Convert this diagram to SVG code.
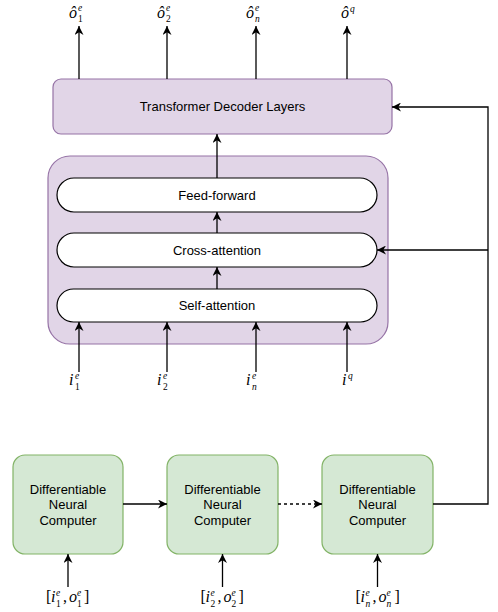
<svg xmlns="http://www.w3.org/2000/svg" width="498" height="612" viewBox="0 0 498 612">
<style>
.lbl{font-family:"Liberation Sans",Arial,sans-serif;font-size:13px;fill:#000;text-anchor:middle}
.m{font-family:"Liberation Serif","DejaVu Serif",serif;font-style:italic;font-size:16px;fill:#000}
.s{font-size:9.5px}
.r{font-style:normal}
.ln{stroke:#000;stroke-width:1.3;fill:none}
.purple{fill:#e1d5e7;stroke:#9673a6;stroke-width:1.2}
.green{fill:#d5e8d4;stroke:#82b366;stroke-width:1.2}
.pill{fill:#fff;stroke:#000;stroke-width:1.2}
</style>
<defs>
<marker id="arr" viewBox="0 0 10 10" refX="10" refY="5" markerWidth="9" markerHeight="9" markerUnits="userSpaceOnUse" orient="auto">
<path d="M0,0 L10,5 L0,10 L3,5 Z" fill="#000"/>
</marker>
</defs>
<rect width="498" height="612" fill="#fff"/>

<g id="decoder-layers">
<rect class="purple" x="53" y="79" width="339" height="55" rx="8"/>
<text class="lbl" x="222.5" y="111">Transformer Decoder Layers</text>
</g>

<g id="decoder-block">
<rect class="purple" x="48" y="156" width="340" height="188" rx="22"/>
</g>
<g id="feed-forward">
<rect class="pill" x="57" y="178" width="320" height="34" rx="17"/>
<text class="lbl" x="217" y="200">Feed-forward</text>
</g>
<g id="cross-attention">
<rect class="pill" x="57" y="233" width="320" height="34" rx="17"/>
<text class="lbl" x="217" y="255">Cross-attention</text>
</g>
<g id="self-attention">
<rect class="pill" x="57" y="289" width="320" height="33" rx="16.5"/>
<text class="lbl" x="217" y="310">Self-attention</text>
</g>

<g id="dnc1">
<rect class="green" x="13" y="455" width="110" height="99" rx="12"/>
<text class="lbl" x="68" y="494">Differentiable</text>
<text class="lbl" x="68" y="509">Neural</text>
<text class="lbl" x="68" y="525">Computer</text>
</g>
<g id="dnc2">
<rect class="green" x="167" y="455" width="111" height="99" rx="12"/>
<text class="lbl" x="222.5" y="494">Differentiable</text>
<text class="lbl" x="222.5" y="509">Neural</text>
<text class="lbl" x="222.5" y="525">Computer</text>
</g>
<g id="dnc3">
<rect class="green" x="322" y="455" width="111" height="99" rx="12"/>
<text class="lbl" x="377.5" y="494">Differentiable</text>
<text class="lbl" x="377.5" y="509">Neural</text>
<text class="lbl" x="377.5" y="525">Computer</text>
</g>

<g id="connectors">
<line class="ln" x1="79" y1="79" x2="79" y2="26" marker-end="url(#arr)"/>
<line class="ln" x1="167" y1="79" x2="167" y2="26" marker-end="url(#arr)"/>
<line class="ln" x1="256" y1="79" x2="256" y2="26" marker-end="url(#arr)"/>
<line class="ln" x1="347" y1="79" x2="347" y2="26" marker-end="url(#arr)"/>
<line class="ln" x1="217" y1="178" x2="217" y2="134" marker-end="url(#arr)"/>
<line class="ln" x1="217" y1="233" x2="217" y2="212" marker-end="url(#arr)"/>
<line class="ln" x1="217" y1="289" x2="217" y2="267" marker-end="url(#arr)"/>
<line class="ln" x1="79" y1="372" x2="79" y2="322" marker-end="url(#arr)"/>
<line class="ln" x1="167" y1="372" x2="167" y2="322" marker-end="url(#arr)"/>
<line class="ln" x1="256" y1="372" x2="256" y2="322" marker-end="url(#arr)"/>
<line class="ln" x1="347" y1="372" x2="347" y2="322" marker-end="url(#arr)"/>
<line class="ln" x1="123" y1="504" x2="167" y2="504" marker-end="url(#arr)"/>
<line class="ln" x1="278" y1="504" x2="322" y2="504" stroke-dasharray="3,3" marker-end="url(#arr)"/>
<polyline class="ln" points="433,504 488,504 488,107 392,107" marker-end="url(#arr)"/>
<line class="ln" x1="488" y1="250" x2="377" y2="250" marker-end="url(#arr)"/>
<line class="ln" x1="68" y1="587" x2="68" y2="554" marker-end="url(#arr)"/>
<line class="ln" x1="222.5" y1="587" x2="222.5" y2="554" marker-end="url(#arr)"/>
<line class="ln" x1="377.5" y1="587" x2="377.5" y2="554" marker-end="url(#arr)"/>
</g>

<g id="output-labels">
<text class="m"><tspan x="69" y="18">ô</tspan><tspan class="s" x="78" y="11">e</tspan><tspan class="s r" x="78" y="22">1</tspan></text>
<text class="m"><tspan x="157" y="18">ô</tspan><tspan class="s" x="166" y="11">e</tspan><tspan class="s r" x="166" y="22">2</tspan></text>
<text class="m"><tspan x="246" y="18">ô</tspan><tspan class="s" x="255" y="11">e</tspan><tspan class="s" x="255" y="22">n</tspan></text>
<text class="m"><tspan x="341" y="18">ô</tspan><tspan class="s" x="350" y="12">q</tspan></text>
</g>

<g id="input-labels">
<text class="m"><tspan x="69" y="385">i</tspan><tspan class="s" x="75" y="379">e</tspan><tspan class="s r" x="75" y="390">1</tspan></text>
<text class="m"><tspan x="157" y="385">i</tspan><tspan class="s" x="163" y="379">e</tspan><tspan class="s r" x="163" y="390">2</tspan></text>
<text class="m"><tspan x="246" y="385">i</tspan><tspan class="s" x="252" y="379">e</tspan><tspan class="s" x="252" y="390">n</tspan></text>
<text class="m"><tspan x="342" y="385">i</tspan><tspan class="s" x="348" y="379">q</tspan></text>
</g>

<g id="dnc-input-labels">
<text class="m"><tspan class="r" x="46" y="602">[</tspan><tspan x="51" y="602">i</tspan><tspan class="s" x="56" y="596">e</tspan><tspan class="s r" x="56" y="607">1</tspan><tspan class="r" x="63" y="602">,</tspan><tspan x="69" y="602">o</tspan><tspan class="s" x="77" y="596">e</tspan><tspan class="s r" x="77" y="607">1</tspan><tspan class="r" x="84" y="602">]</tspan></text>
<text class="m"><tspan class="r" x="200.5" y="602">[</tspan><tspan x="205.5" y="602">i</tspan><tspan class="s" x="210.5" y="596">e</tspan><tspan class="s r" x="210.5" y="607">2</tspan><tspan class="r" x="217.5" y="602">,</tspan><tspan x="223.5" y="602">o</tspan><tspan class="s" x="231.5" y="596">e</tspan><tspan class="s r" x="231.5" y="607">2</tspan><tspan class="r" x="238.5" y="602">]</tspan></text>
<text class="m"><tspan class="r" x="355.5" y="602">[</tspan><tspan x="360.5" y="602">i</tspan><tspan class="s" x="365.5" y="596">e</tspan><tspan class="s" x="365.5" y="607">n</tspan><tspan class="r" x="372.5" y="602">,</tspan><tspan x="378.5" y="602">o</tspan><tspan class="s" x="386.5" y="596">e</tspan><tspan class="s" x="386.5" y="607">n</tspan><tspan class="r" x="394.5" y="602">]</tspan></text>
</g>
</svg>
